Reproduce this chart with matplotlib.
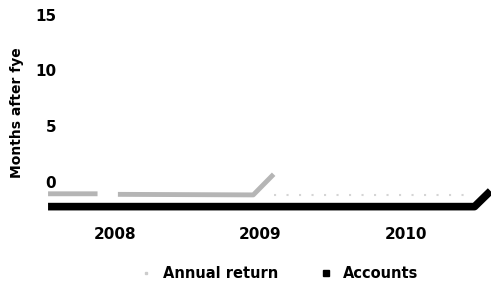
import numpy as np
import matplotlib.pyplot as plt

# data (x in decimal years)
annual_x = [2007.54, 2007.88, np.nan, 2008.02, 2008.95, 2009.09]
annual_y = [-1.05, -1.05, np.nan, -1.1, -1.15, 0.7]
annual_tail_x = [2009.09, 2010.45]
annual_tail_y = [-1.2, -1.2]
accounts_x = [2007.54, 2009.0, 2010.47, 2010.58]
accounts_y = [-2.2, -2.2, -2.2, -0.8]
year_ticks = [2008, 2009, 2010]
y_ticks = [0, 5, 10, 15]

fig = plt.figure(figsize=(4.91, 2.85), dpi=100)
ax = fig.add_axes([0.086, 0.2554, 0.913, 0.713])

ax.plot(annual_x, annual_y, color='#b5b5b5', lw=3.5, solid_capstyle='butt')
ax.plot(annual_tail_x, annual_tail_y, color='#d5d5d5', lw=1.5, ls=(0, (1, 5)))
ax.plot(accounts_x, accounts_y, color='black', lw=5.5, solid_capstyle='butt')

ax.set_xlim(2007.5, 2010.58)
ax.set_ylim(-2.7, 15.5)
ax.set_xticks(year_ticks)
ax.set_xticklabels([str(y) for y in year_ticks], fontsize=11, fontweight='bold')
ax.set_yticks(y_ticks)
ax.set_yticklabels([str(v) for v in y_ticks], fontsize=11, fontweight='bold')
ax.tick_params(axis='x', length=0, pad=11)
ax.tick_params(axis='y', length=0, pad=-10)
ax.set_ylabel('Months after fye', fontsize=10, fontweight='bold')
ax.yaxis.set_label_coords(-0.04, 0.49)
for s in ax.spines.values():
    s.set_visible(False)

h1 = plt.Line2D([], [], color='#cccccc', marker='s', ls='none', markersize=1.5)
h2 = plt.Line2D([], [], color='black', marker='s', ls='none', markersize=4.5)
fig.legend([h1, h2], ['Annual return', 'Accounts'], loc='center',
           bbox_to_anchor=(0.567, 0.04), ncol=2, frameon=False,
           prop={'size': 10.5, 'weight': 'bold'}, handlelength=1,
           handletextpad=0.66, columnspacing=2.8, borderpad=0)

fig.savefig('out.png', dpi=100)
